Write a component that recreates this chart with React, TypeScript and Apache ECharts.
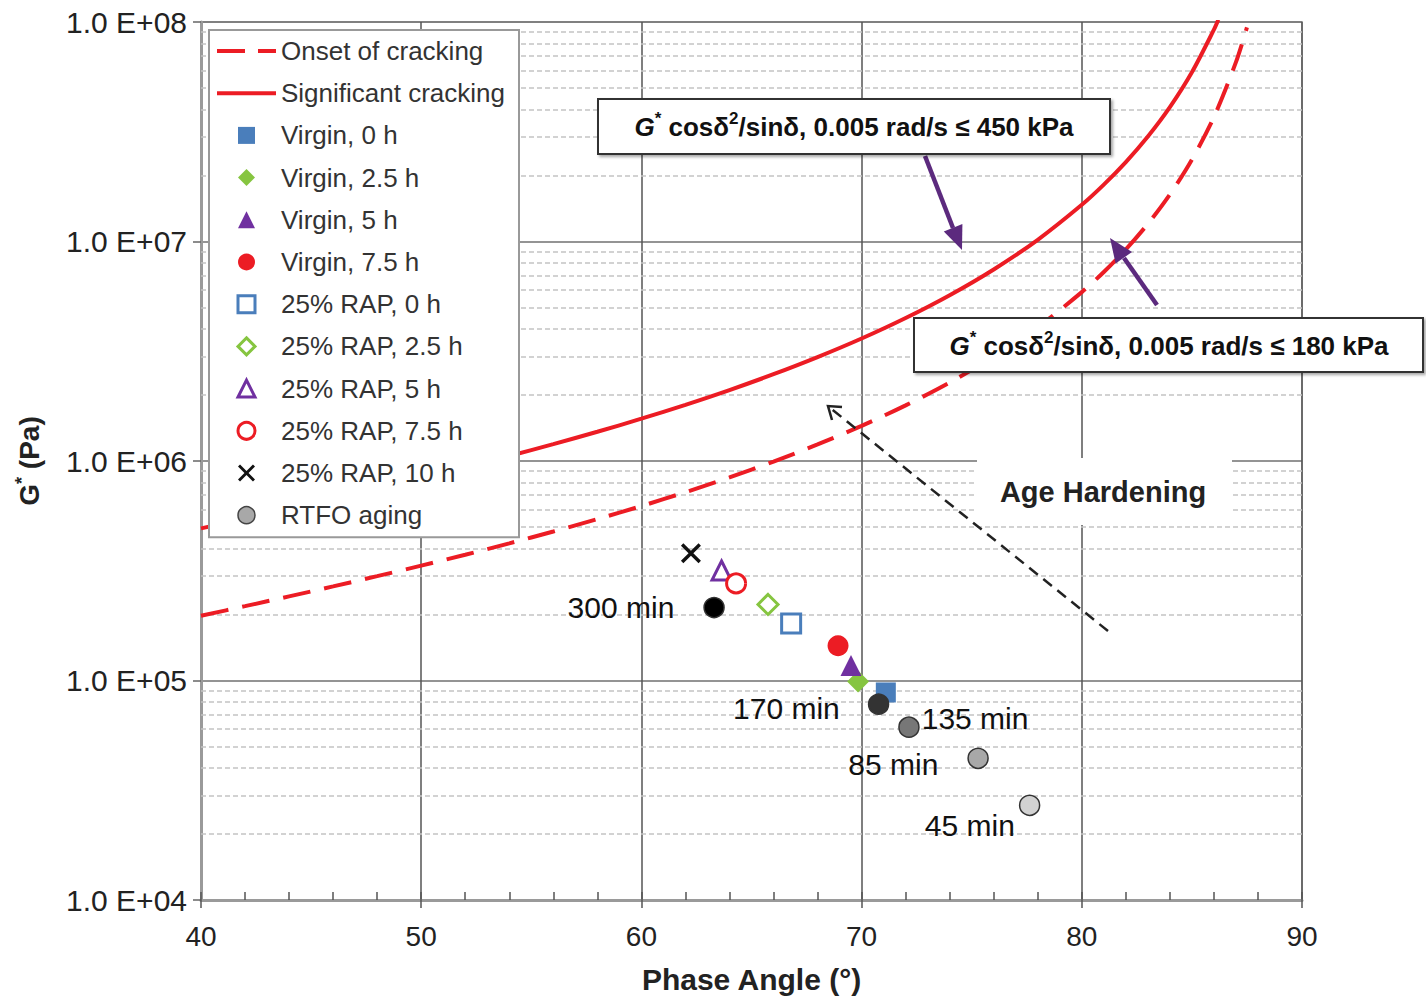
import React, { useEffect, useRef } from 'react';
import * as echarts from 'echarts';

const FONT = "'Liberation Sans', Arial, Helvetica, sans-serif";

// Axis ranges / ticks
const xMin = 40;
const xMax = 90;
const xInterval = 10;
const yMin = 1e4;
const yMax = 1e8;
const yDecades = [1e4, 1e5, 1e6, 1e7];
const yMinorMultipliers = [2, 3, 4, 5, 6, 7, 8, 9];

// Criterion curves
const onsetAngle = [40, 42, 44, 46, 48, 50, 52, 54, 56, 58, 60, 62, 64, 66, 68, 70, 72, 74, 76, 78, 80, 81, 82, 83, 84, 85, 86, 87, 87.5];
const onsetGstar = [197200, 218100, 241700, 268300, 298800, 333700, 374200, 421500, 477200, 543600, 623500, 721100, 841800, 994100, 1189500, 1445700, 1792700, 2277300, 2984000, 4072700, 5879000, 7265000, 9203000, 12030000, 16378000, 23607000, 36900000, 65630000, 94500000];
const sigAngle = [40, 42, 44, 46, 48, 50, 52, 54, 56, 58, 60, 62, 64, 66, 68, 70, 72, 74, 76, 78, 80, 81, 82, 83, 84, 85, 86, 86.2];
const sigGstar = [493000, 545200, 604200, 670700, 747000, 834300, 935600, 1053700, 1193000, 1359000, 1558800, 1802700, 2104400, 2485300, 2973900, 3614200, 4481800, 5693400, 7460000, 10182000, 14697000, 18163000, 23008000, 30074000, 40946000, 59018000, 92250000, 102400000];

// Binder points [phase angle, G*]
const virgin0 = [[71.1, 88200]];
const virgin25 = [[69.84, 99000]];
const virgin5 = [[69.52, 117000]];
const virgin75 = [[68.93, 144000]];
const rap0 = [[66.8, 182000]];
const rap25 = [[65.75, 222000]];
const rap5 = [[63.64, 317000]];
const rap75 = [[64.3, 277000]];
const rap10 = [[62.25, 380000]];

const rtfoAngle = [63.3, 70.77, 72.15, 75.29, 77.63];
const rtfoGstar = [215000, 78000, 61300, 44200, 27000];
const rtfoLabels = ['300 min', '170 min', '135 min', '85 min', '45 min'];

const BLUE = '#4a7ebb';
const GREEN = '#86c540';
const PURPLE = '#7030a0';
const RED = '#ec1c24';
const CROSS = 'path://M0,1.2 L1.2,0 L5,3.8 L8.8,0 L10,1.2 L6.2,5 L10,8.8 L8.8,10 L5,6.2 L1.2,10 L0,8.8 L3.8,5 Z';
const ICON_RECT = 'path://M0,0 L10,0 L10,10 L0,10 Z';
const ICON_DIAMOND = 'path://M5,0 L10,5 L5,10 L0,5 Z';
const ICON_TRIANGLE = 'path://M5,0 L10,10 L0,10 Z';
const ICON_SOLID = 'path://M0,0 L59,0 L59,4 L0,4 Z';
const ICON_DASHED = 'path://M0,0 L28,0 L28,4 L0,4 Z M41,0 L59,0 L59,4 L41,4 Z';

function App() {
  const ref = useRef<HTMLDivElement>(null);

  useEffect(() => {
    if (!ref.current) return;
    const chart = echarts.init(ref.current, null, { renderer: 'svg' });

    const minorValues: number[] = [];
    yDecades.forEach((d) => yMinorMultipliers.forEach((m) => minorValues.push(d * m)));

    const pts = (name: string, data: number[][], symbol: string, size: number, itemStyle: any) => ({
      name,
      type: 'scatter',
      data,
      symbol,
      symbolSize: size,
      itemStyle: { opacity: 1, ...itemStyle },
      z: 3,
    });

    const rtfoFill = ['#000000', '#333333', '#777777', '#a8a8a8', '#d2d2d2'];
    const rtfoLabelPos: any[] = [
      { position: 'left', distance: 26, offset: [-3, 0] },
      { position: 'left', distance: 28, offset: [0, 4] },
      { position: 'right', distance: 2, offset: [0, -9] },
      { position: 'left', distance: 27, offset: [-2, 6] },
      { position: 'left', distance: 2, offset: [-2, 20] },
    ];

    const rtfoData = rtfoAngle.map((a, i) => ({
      value: [a, rtfoGstar[i]],
      itemStyle: { color: rtfoFill[i], borderColor: '#333', borderWidth: 1.5, opacity: 1 },
      label: {
        show: true,
        formatter: rtfoLabels[i],
        fontSize: 30,
        color: '#111',
        fontFamily: FONT,
        ...rtfoLabelPos[i],
      },
    }));

    const boxText = (limit: string) =>
      `{gi|G}{sup|*}{t| cosδ}{sup|2}{t|/sinδ, 0.005 rad/s ≤ ${limit} kPa}`;
    const boxRich = {
      gi: { fontStyle: 'italic', fontWeight: 'bold', fontSize: 26, lineHeight: 34, fontFamily: FONT },
      t: { fontWeight: 'bold', fontSize: 26, lineHeight: 34, fontFamily: FONT },
      sup: { fontWeight: 'bold', fontSize: 17, lineHeight: 20, verticalAlign: 'top', fontFamily: FONT },
    };
    const boxShadow = { shadowBlur: 3, shadowOffsetX: 2, shadowOffsetY: 2, shadowColor: 'rgba(0,0,0,0.35)' };

    chart.setOption({
      animation: false,
      backgroundColor: '#ffffff',
      textStyle: { fontFamily: FONT },
      grid: {
        left: 201,
        right: 124,
        top: 22,
        bottom: 101,
        show: true,
        borderColor: '#b0b0b0',
        borderWidth: 2,
        containLabel: false,
        outerBoundsMode: 'none',
      },
      legend: {
        orient: 'vertical',
        left: 209,
        top: 30,
        padding: [6, 14, 7, 8],
        itemWidth: 59,
        itemHeight: 17,
        itemGap: 12.2,
        symbolKeepAspect: true,
        backgroundColor: '#ffffff',
        borderColor: '#999',
        borderWidth: 2,
        z: 6,
        textStyle: { fontSize: 26, lineHeight: 30, color: '#333', fontFamily: FONT },
        data: [
          { name: 'Onset of cracking', icon: ICON_DASHED },
          { name: 'Significant cracking', icon: ICON_SOLID },
          { name: 'Virgin, 0 h', icon: ICON_RECT },
          { name: 'Virgin, 2.5 h', icon: ICON_DIAMOND },
          { name: 'Virgin, 5 h', icon: ICON_TRIANGLE },
          { name: 'Virgin, 7.5 h', icon: 'circle' },
          { name: '25% RAP, 0 h', icon: ICON_RECT, itemStyle: { borderWidth: 3 } },
          { name: '25% RAP, 2.5 h', icon: ICON_DIAMOND, itemStyle: { borderWidth: 3 } },
          { name: '25% RAP, 5 h', icon: ICON_TRIANGLE, itemStyle: { borderWidth: 3 } },
          { name: '25% RAP, 7.5 h', icon: 'circle', itemStyle: { borderWidth: 3 } },
          { name: '25% RAP, 10 h', icon: CROSS },
          { name: 'RTFO aging', icon: 'circle', itemStyle: { borderWidth: 1.5 } },
        ],
      },
      xAxis: [
        {
          type: 'value',
          min: xMin,
          max: xMax,
          interval: xInterval,
          name: 'Phase Angle (°)',
          nameLocation: 'middle',
          nameGap: 64,
          nameTextStyle: { fontSize: 30, fontWeight: 'bold', color: '#222', fontFamily: FONT },
          axisLine: { show: true, lineStyle: { color: '#9a9a9a', width: 3 } },
          axisTick: { show: true, inside: true, length: 8, lineStyle: { color: '#555', width: 1.5 } },
          minorTick: { show: true, splitNumber: 5, length: 8, lineStyle: { color: '#555', width: 1.5 } },
          axisLabel: { fontSize: 28, color: '#222', margin: 22, fontFamily: FONT },
          splitLine: { show: true, lineStyle: { color: '#555', width: 1.5 } },
        },
        {
          type: 'value',
          min: xMin,
          max: xMax,
          interval: xInterval,
          position: 'bottom',
          axisLine: { show: false },
          axisTick: { show: true, inside: false, length: 8, lineStyle: { color: '#555', width: 1.5 } },
          axisLabel: { show: false },
          splitLine: { show: false },
        },
      ],
      yAxis: {
        type: 'log',
        logBase: 10,
        min: yMin,
        max: yMax,
        splitNumber: 4,
        name: '{a|G}{b|*}{a| (Pa)}',
        nameLocation: 'middle',
        nameGap: 156,
        nameRotate: 90,
        nameTextStyle: {
          rich: {
            a: { fontSize: 28, fontWeight: 'bold', color: '#222', lineHeight: 32, fontFamily: FONT },
            b: { fontSize: 18, fontWeight: 'bold', color: '#222', lineHeight: 22, verticalAlign: 'top', fontFamily: FONT },
          },
        },
        axisLine: { show: true, lineStyle: { color: '#9a9a9a', width: 3 } },
        axisTick: { show: true, inside: false, length: 8, lineStyle: { color: '#666', width: 1.5 } },
        axisLabel: {
          fontSize: 30,
          color: '#222',
          margin: 14,
          fontFamily: FONT,
          formatter: (v: number) => '1.0 E+' + String(Math.round(Math.log10(v))).padStart(2, '0'),
        },
        splitLine: { show: true, lineStyle: { color: '#707070', width: 1.5 } },
      },
      series: [
        {
          name: 'minor grid',
          type: 'line',
          data: [],
          z: 1,
          silent: true,
          markLine: {
            silent: true,
            z: 1,
            symbol: ['none', 'none'],
            label: { show: false },
            lineStyle: { type: [5, 3], color: '#c4c4c4', width: 1.5 },
            emphasis: { disabled: true },
            data: minorValues.map((v) => ({ yAxis: v })),
          },
        },
        {
          name: 'Onset of cracking',
          type: 'line',
          data: onsetAngle.map((a, i) => [a, onsetGstar[i]]),
          symbol: 'none',
          smooth: 0.3,
          clip: true,
          z: 2,
          lineStyle: { color: RED, width: 4, type: [28, 14] },
          itemStyle: { color: RED },
        },
        {
          name: 'Significant cracking',
          type: 'line',
          data: sigAngle.map((a, i) => [a, sigGstar[i]]),
          symbol: 'none',
          smooth: 0.3,
          clip: true,
          z: 2,
          lineStyle: { color: RED, width: 4 },
          itemStyle: { color: RED },
        },
        pts('Virgin, 0 h', virgin0, 'rect', 20, { color: BLUE }),
        pts('Virgin, 2.5 h', virgin25, 'diamond', 22, { color: GREEN }),
        pts('Virgin, 5 h', virgin5, 'triangle', 21, { color: PURPLE }),
        pts('Virgin, 7.5 h', virgin75, 'circle', 21, { color: RED }),
        pts('25% RAP, 0 h', rap0, 'rect', 19, { color: '#fff', borderColor: BLUE, borderWidth: 3 }),
        pts('25% RAP, 2.5 h', rap25, 'diamond', 20, { color: '#fff', borderColor: GREEN, borderWidth: 3 }),
        pts('25% RAP, 5 h', rap5, 'triangle', 19, { color: '#fff', borderColor: PURPLE, borderWidth: 3 }),
        pts('25% RAP, 7.5 h', rap75, 'circle', 19, { color: '#fff', borderColor: RED, borderWidth: 3 }),
        pts('25% RAP, 10 h', rap10, CROSS, 20, { color: '#111' }),
        {
          name: 'RTFO aging',
          type: 'scatter',
          data: rtfoData,
          symbol: 'circle',
          symbolSize: 20,
          z: 3,
          itemStyle: { color: '#a8a8a8', borderColor: '#444', borderWidth: 1.5, opacity: 1 },
        },
      ],
      graphic: [
        // Age hardening label with white backing
        {
          type: 'rect',
          z: 5,
          shape: { x: 977, y: 458, width: 255, height: 67 },
          style: { fill: '#ffffff' },
        },
        {
          type: 'text',
          z: 6,
          x: 1103,
          y: 492,
          style: {
            text: 'Age Hardening',
            fontSize: 29,
            fontWeight: 'bold',
            fontFamily: FONT,
            fill: '#222',
            align: 'center',
            verticalAlign: 'middle',
          },
        },
        // Dashed arrow
        {
          type: 'line',
          z: 6,
          shape: { x1: 1108, y1: 631, x2: 829, y2: 407 },
          style: { stroke: '#222', lineWidth: 2.5, lineDash: [11, 7] },
        },
        {
          type: 'polyline',
          z: 6,
          shape: { points: [[832, 420], [828, 406], [842, 407]] },
          style: { stroke: '#222', lineWidth: 2.5, fill: 'none' },
        },
        // Purple arrows
        {
          type: 'line',
          z: 6,
          shape: { x1: 925, y1: 156, x2: 953, y2: 228 },
          style: { stroke: '#5c2a7e', lineWidth: 4.5 },
        },
        {
          type: 'polygon',
          z: 6,
          shape: { points: [[962, 250], [943.8, 231.4], [962.4, 224]] },
          style: { fill: '#5c2a7e' },
        },
        {
          type: 'line',
          z: 6,
          shape: { x1: 1157, y1: 305, x2: 1124, y2: 258 },
          style: { stroke: '#5c2a7e', lineWidth: 4.5 },
        },
        {
          type: 'polygon',
          z: 6,
          shape: { points: [[1110, 238], [1132, 252], [1115.6, 263.5]] },
          style: { fill: '#5c2a7e' },
        },
        // Criterion boxes
        {
          type: 'rect',
          z: 7,
          shape: { x: 598, y: 99, width: 512, height: 55 },
          style: { fill: '#ffffff', stroke: '#333', lineWidth: 2, ...boxShadow },
        },
        {
          type: 'text',
          z: 8,
          x: 854,
          y: 127,
          style: {
            text: boxText('450'),
            rich: boxRich,
            fill: '#111',
            align: 'center',
            verticalAlign: 'middle',
          },
        },
        {
          type: 'rect',
          z: 7,
          shape: { x: 914, y: 318, width: 509, height: 54 },
          style: { fill: '#ffffff', stroke: '#333', lineWidth: 2, ...boxShadow },
        },
        {
          type: 'text',
          z: 8,
          x: 1169,
          y: 346,
          style: {
            text: boxText('180'),
            rich: boxRich,
            fill: '#111',
            align: 'center',
            verticalAlign: 'middle',
          },
        },
      ],
    });

    return () => chart.dispose();
  }, []);

  return (
    <div
      ref={ref}
      style={{ position: 'fixed', left: 0, top: 0, width: 1426, height: 1001, background: '#fff' }}
    />
  );
}

export default App;
